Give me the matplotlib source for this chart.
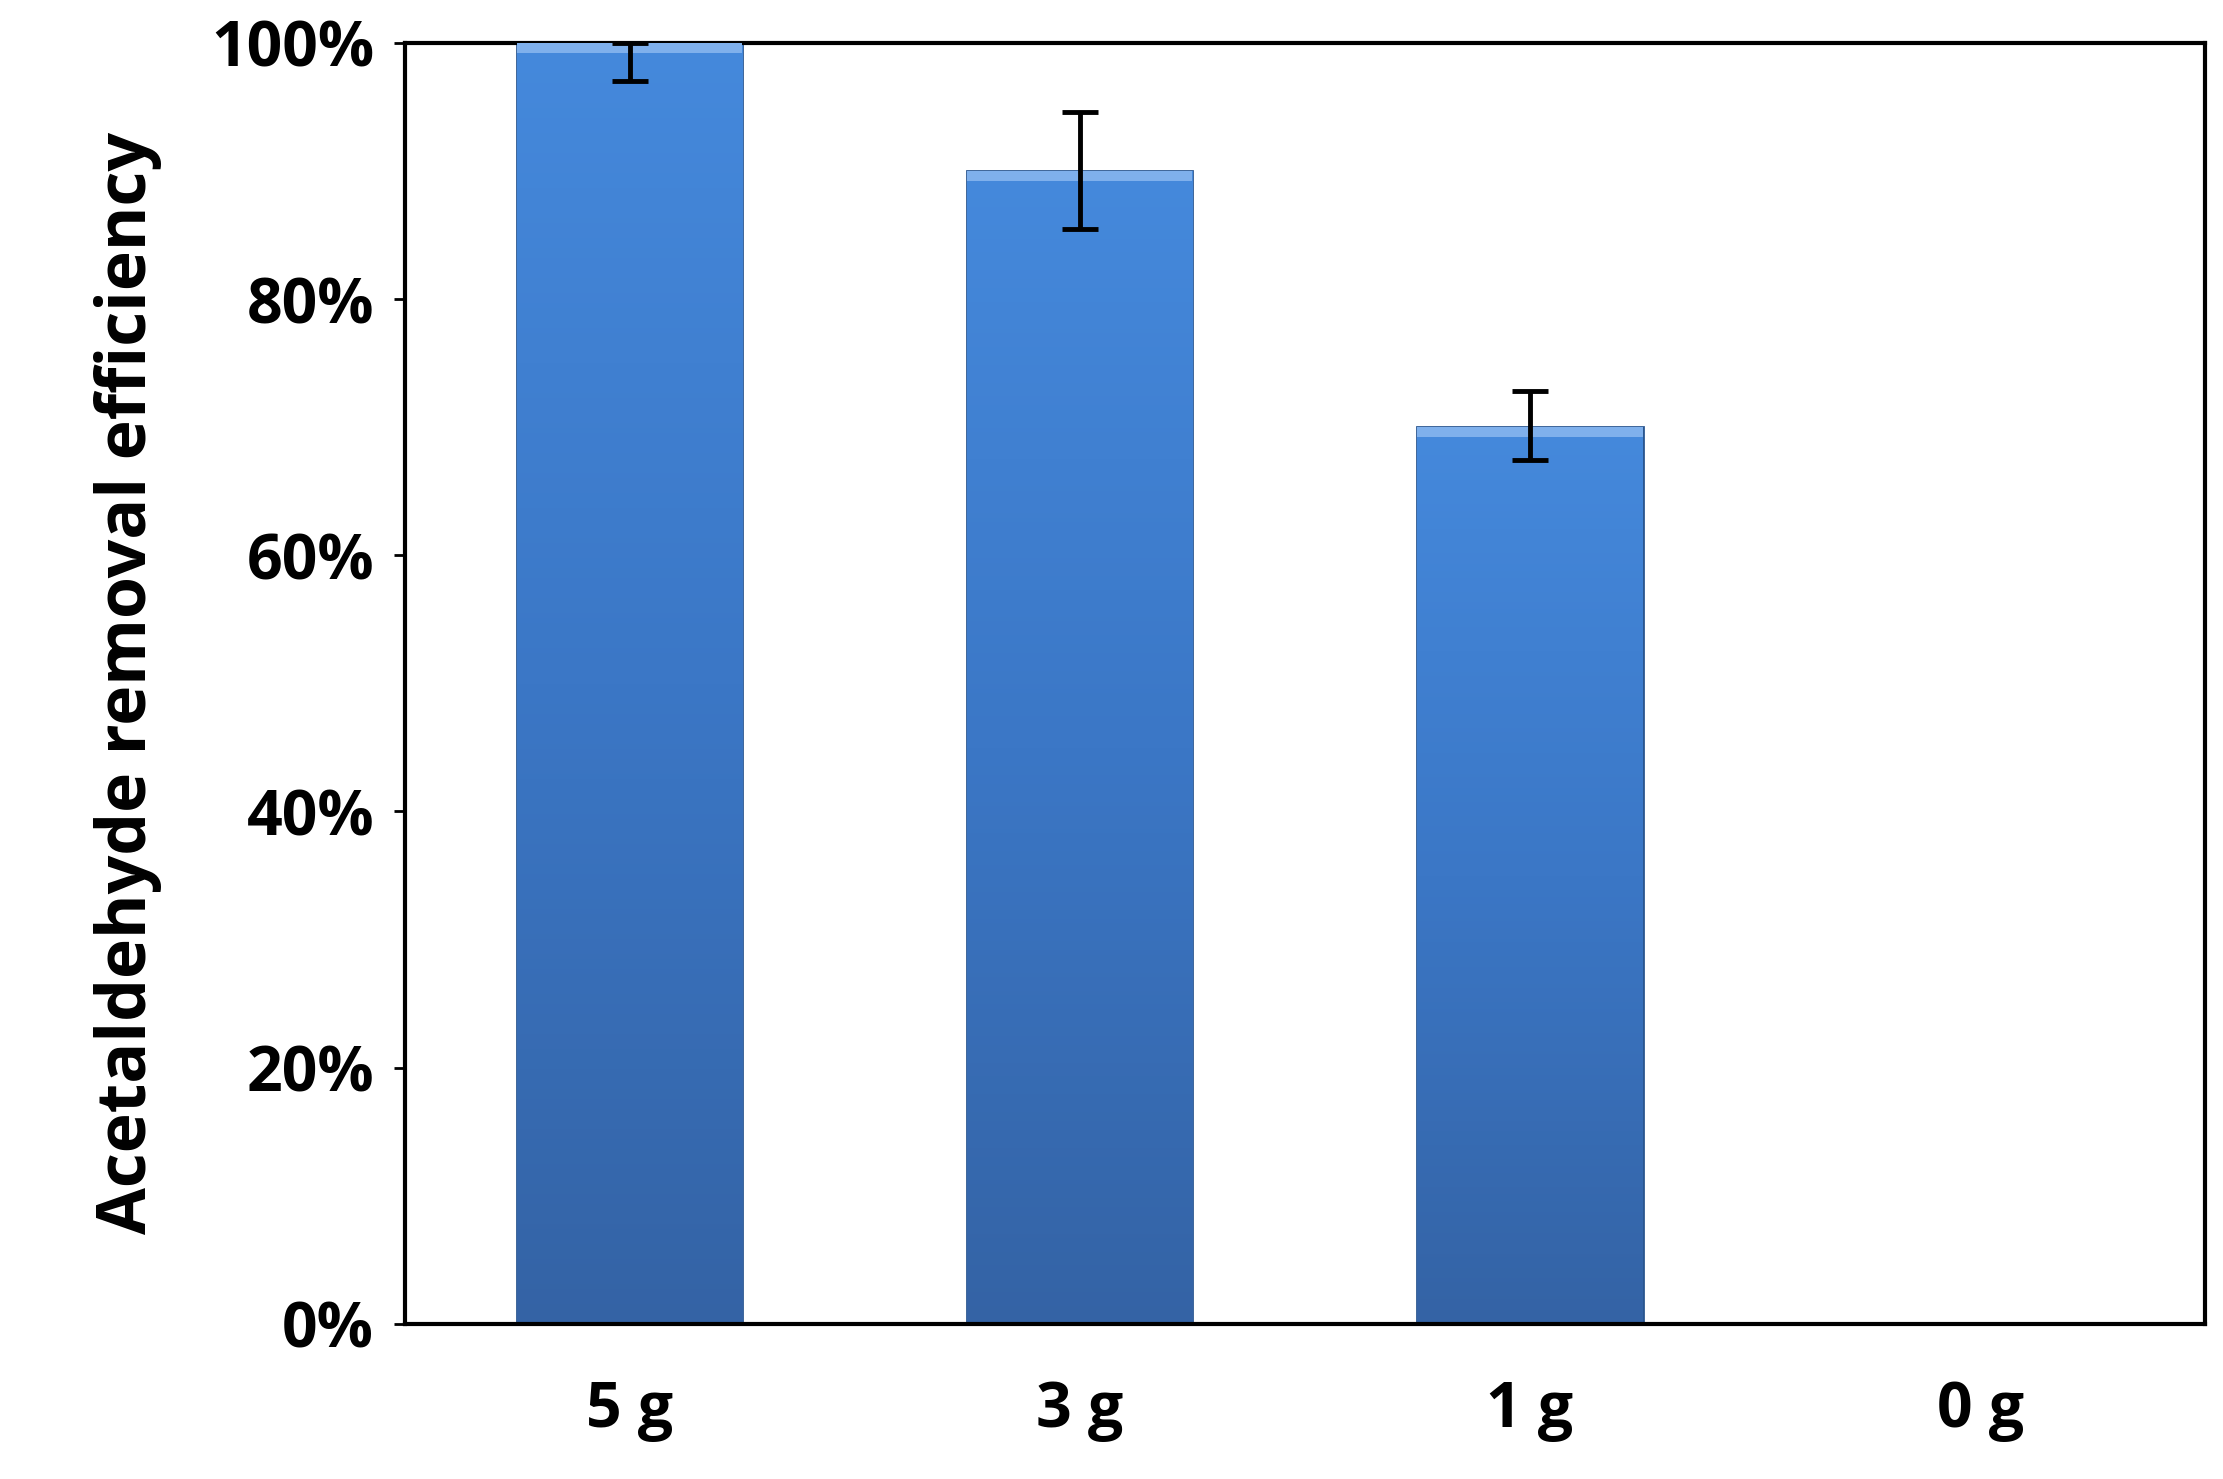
import numpy as np
import matplotlib.pyplot as plt
from matplotlib.colors import LinearSegmentedColormap

categories = ['5 g', '3 g', '1 g', '0 g']
efficiency = [100, 90, 70, 0]          # percent
err_low = [3.0, 4.5, 2.6, 0]
err_high = [0.0, 4.6, 2.8, 0]

plt.rcParams['font.family'] = ['Open Sans', 'DejaVu Sans']
plt.rcParams['font.weight'] = 'bold'

fig = plt.figure(figsize=(22.23, 14.79), dpi=100)
ax = fig.add_axes([0.182, 0.105, 0.81, 0.866])

x = np.arange(len(categories))
bars = ax.bar(x, efficiency, width=0.5, color='#3d78c9', edgecolor='#2a568f', linewidth=2, zorder=2)

# vertical gradient on each bar: light at top, darker at base
cmap = LinearSegmentedColormap.from_list('bar', ['#3463a5', '#3b77c6', '#4589dc'])
grad = np.linspace(0, 1, 256).reshape(-1, 1)
for b in bars:
    if b.get_height() <= 0:
        continue
    x0, w, h = b.get_x(), b.get_width(), b.get_height()
    im = ax.imshow(grad, cmap=cmap, origin='lower', aspect='auto',
                   extent=[x0, x0 + w, 0, h], zorder=2.5)
    im.set_clip_path(b)
    ax.fill_between([x0, x0 + w], h - 0.8, h, color='#7fb0ec', zorder=2.6, linewidth=0)

ax.errorbar(x[:3], efficiency[:3], yerr=[err_low[:3], err_high[:3]], fmt='none',
            ecolor='black', elinewidth=3.5, capsize=13, capthick=3.5, zorder=3)

ax.set_xlim(-0.5, 3.5)
ax.set_ylim(0, 100)
ax.set_yticks(range(0, 101, 20))
ax.set_yticklabels([f'{v}%' for v in range(0, 101, 20)])
ax.set_xticks(x)
ax.set_xticklabels(categories)
ax.tick_params(axis='both', labelsize=45, length=0)
ax.tick_params(axis='x', pad=40)
ax.tick_params(axis='y', length=8, width=2, direction='out', pad=14)
for s in ax.spines.values():
    s.set_linewidth(3)
ax.set_ylabel('Acetaldehyde removal efficiency', fontsize=49, fontweight='bold', labelpad=35)

fig.savefig('out.png', dpi=100)
